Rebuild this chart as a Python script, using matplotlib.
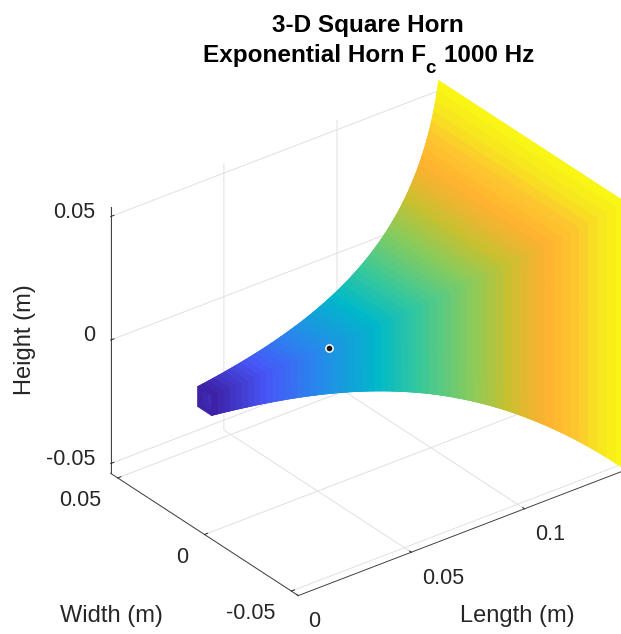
import numpy as np
import matplotlib
matplotlib.use("Agg")
import matplotlib.pyplot as plt
from matplotlib.colors import LinearSegmentedColormap
from matplotlib.transforms import offset_copy
from mpl_toolkits.mplot3d import proj3d

plt.rcParams['font.family'] = ['Liberation Sans', 'DejaVu Sans']

W, H = 621, 634
INK = '#262626'

# Horn profile (m)
length_m = [0.0000, 0.0025, 0.0050, 0.0075, 0.0100, 0.0125, 0.0150, 0.0175, 0.0200, 0.0225,
            0.0250, 0.0275, 0.0300, 0.0325, 0.0350, 0.0375, 0.0400, 0.0425, 0.0450, 0.0475,
            0.0500, 0.0525, 0.0550, 0.0575, 0.0600, 0.0625, 0.0650, 0.0675, 0.0700, 0.0725,
            0.0750, 0.0775, 0.0800, 0.0825, 0.0850, 0.0875, 0.0900, 0.0925, 0.0950, 0.0975,
            0.1000, 0.1025, 0.1050, 0.1075, 0.1100, 0.1125, 0.1150, 0.1175, 0.1200, 0.1225,
            0.1250, 0.1275, 0.1300, 0.1325, 0.1350, 0.1375, 0.1400, 0.1425, 0.1450]
half_side_m = [0.00400, 0.00418, 0.00438, 0.00458, 0.00479, 0.00501, 0.00524, 0.00548,
               0.00573, 0.00599, 0.00627, 0.00656, 0.00686, 0.00717, 0.00750, 0.00784,
               0.00821, 0.00859, 0.00898, 0.00939, 0.00982, 0.01027, 0.01074, 0.01123,
               0.01175, 0.01229, 0.01286, 0.01345, 0.01406, 0.01471, 0.01538, 0.01609,
               0.01683, 0.01760, 0.01841, 0.01925, 0.02014, 0.02106, 0.02203, 0.02304,
               0.02410, 0.02521, 0.02636, 0.02757, 0.02884, 0.03016, 0.03155, 0.03300,
               0.03451, 0.03609, 0.03775, 0.03948, 0.04129, 0.04319, 0.04517, 0.04724,
               0.04941, 0.05168, 0.05405]
marker_xyz = (0.0549, 0.0, 0.0024)

x_ticks = [0, 0.05, 0.1]
x_tick_labels = ['0', '0.05', '0.1']
yz_ticks = [-0.05, 0, 0.05]
yz_tick_labels = ['-0.05', '0', '0.05']

palette_pos = [0.0, 0.15, 0.28, 0.45, 0.56, 0.68, 0.76, 0.84, 0.90, 0.95, 1.0]
palette_col = ['#3d22a8', '#4757f8', '#2a85ee', '#00b8c9', '#3ac99a', '#8acb5a',
               '#c8c030', '#ffb030', '#fdc72e', '#f6e81e', '#fbfb10']
cmap = LinearSegmentedColormap.from_list('parula_like', list(zip(palette_pos, palette_col)), N=256)

x = np.array(length_m)
h = np.array(half_side_m)
XLIM = (0, 0.145)
YZLIM = (-0.054, 0.054)

fig = plt.figure(figsize=(W / 100, H / 100), dpi=100, facecolor='white')
ax = fig.add_axes([0.1, 0.1, 0.7, 0.7 * W / H], projection='3d', computed_zorder=False)
ax.set_proj_type('ortho')
ax.view_init(elev=30, azim=-127.5)
ax.set_box_aspect((XLIM[1] - XLIM[0], YZLIM[1] - YZLIM[0], YZLIM[1] - YZLIM[0]))
ax.patch.set_alpha(0)

fc = cmap(x[:-1] / x.max())


def face(Y, Z, order):
    X2 = np.column_stack([x, x])
    s = ax.plot_surface(X2, Y, Z, facecolors=fc[:, None, :], shade=False, rstride=1,
                        cstride=1, linewidth=0.5, antialiased=True, zorder=order)
    s.set_edgecolor(fc)
    return s


# inner walls seen through the throat, then the two walls facing the viewer
face(np.column_stack([h, h]), np.column_stack([-h, h]), 1)
face(np.column_stack([-h, h]), np.column_stack([-h, -h]), 1)
face(np.column_stack([-h, h]), np.column_stack([h, h]), 2)
face(np.column_stack([-h, -h]), np.column_stack([-h, h]), 2)

ax.plot([marker_xyz[0]], [marker_xyz[1]], [marker_xyz[2]], 'o', ms=5.2, mfc='#1a1a1a',
        mec='white', mew=1.1, zorder=5)

ax.set_xlim(*XLIM, view_margin=0)
ax.set_ylim(*YZLIM, view_margin=0)
ax.set_zlim(*YZLIM, view_margin=0)

ax.set_xticks(x_ticks, x_tick_labels)
ax.set_yticks(yz_ticks, yz_tick_labels)
ax.set_zticks(yz_ticks, yz_tick_labels)
for a in (ax.xaxis, ax.yaxis, ax.zaxis):
    a.pane.set_facecolor((1, 1, 1, 0))
    a.pane.set_edgecolor((1, 1, 1, 0))
    a.line.set_color('#404040')
    a.line.set_linewidth(0.7)
    a._axinfo['grid'].update(color='#e0e0e0', linewidth=0.7)
    a._axinfo['tick'].update(inward_factor=0.0, outward_factor=0.12, color='#404040',
                             linewidth={True: 0.7, False: 0.7})
ax.tick_params(axis='both', labelsize=15.5, colors=INK, pad=4)


def shift_labels(labels, ha, dx, dy):
    # mplot3d re-applies transData to its tick labels on every draw, so pin the offset
    for l in labels:
        l.set_ha(ha)
        l.set_va('center')
        l.set_transform(offset_copy(ax.transData, fig=fig, x=dx, y=dy, units='dots'))
        l.set_transform = lambda *_: None


shift_labels(ax.get_xticklabels(), 'left', 0, -4.5)
shift_labels(ax.get_yticklabels(), 'right', 2, -1)
shift_labels(ax.get_zticklabels(), 'right', 13, 4.5)


def pix(px, py, pz):
    fig.canvas.draw()
    xx, yy, _ = proj3d.proj_transform(px, py, pz, ax.get_proj())
    return ax.transData.transform((xx, yy))


# place the axes so the floor's left edge lands where it does in the reference
for _ in range(2):
    a0 = pix(0, YZLIM[1], YZLIM[0])
    b0 = pix(0, YZLIM[0], YZLIM[0])
    target_a = np.array([111, H - 473])
    target_b = np.array([298, H - 596])
    k = np.linalg.norm(target_b - target_a) / np.linalg.norm(b0 - a0)
    pos = ax.get_position()
    wpx = pos.width * W * k
    cx = (pos.x0 + pos.width / 2) * W
    cy = (pos.y0 + pos.height / 2) * H
    mid0 = (a0 + b0) / 2
    mid_t = (target_a + target_b) / 2
    ncx = mid_t[0] - (mid0[0] - cx) * k
    ncy = mid_t[1] - (mid0[1] - cy) * k
    ax.set_position([(ncx - wpx / 2) / W, (ncy - wpx / 2) / H, wpx / W, wpx / H])

bold = dict(fontweight='bold', color='black', va='baseline')
fig.text(368 / W, 1 - 32 / H, '3-D Square Horn', ha='center', fontsize=17.5, **bold)
fig.text(203 / W, 1 - 62 / H, 'Exponential Horn F', ha='left', fontsize=17.5, **bold)
fig.text(430 / W, 1 - 73 / H, 'c', ha='center', fontsize=13.5, **bold)
fig.text(534 / W, 1 - 62 / H, '1000 Hz', ha='right', fontsize=17.5, **bold)
fig.text(25 / W, 1 - 340 / H, 'Height (m)', rotation=90, ha='center', va='center',
         fontsize=17, color=INK)
fig.text(111 / W, 1 - 616 / H, 'Width (m)', ha='center', va='center', fontsize=17, color=INK)
fig.text(517 / W, 1 - 616 / H, 'Length (m)', ha='center', va='center', fontsize=17, color=INK)

fig.savefig('out.png', dpi=100)
